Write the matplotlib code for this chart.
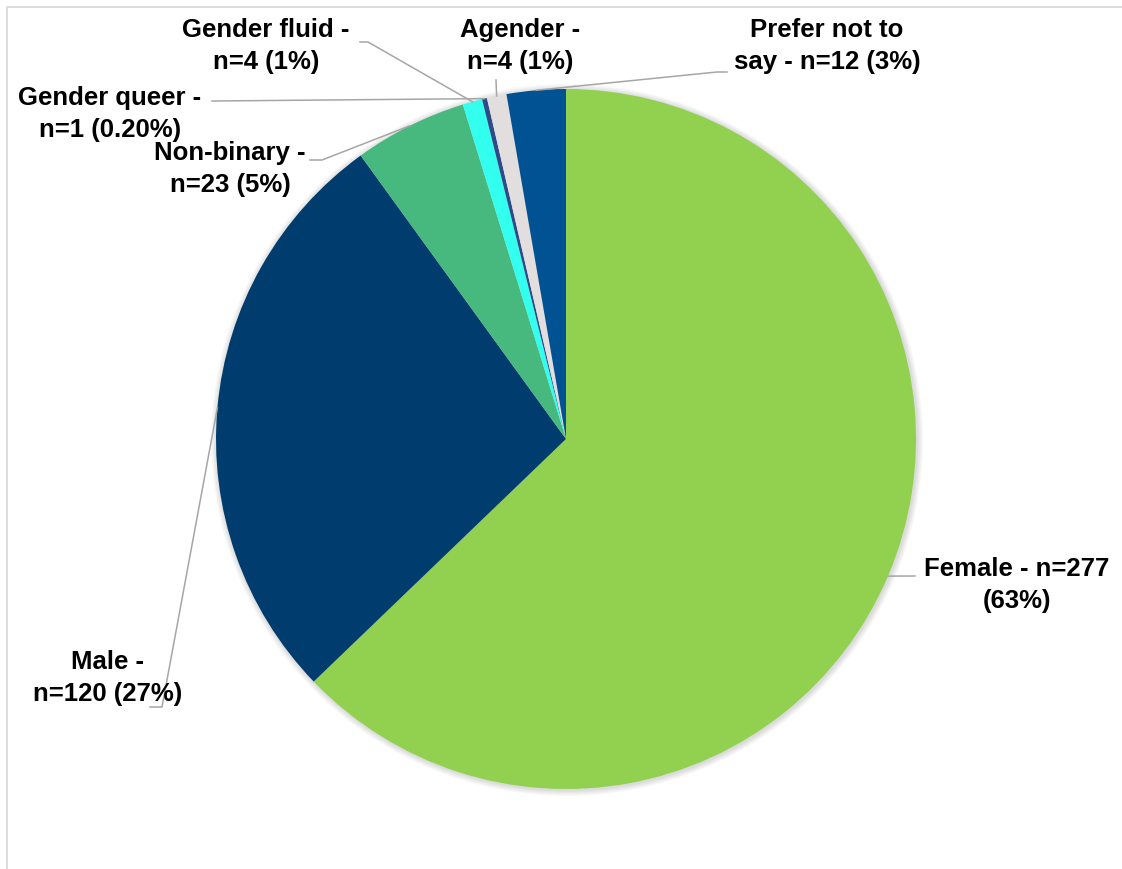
import numpy as np
import matplotlib
matplotlib.use("Agg")
import matplotlib.pyplot as plt
from matplotlib.patches import Circle

# data (clockwise from 12 o'clock)
categories = ["Female", "Male", "Non-binary", "Gender fluid", "Gender queer", "Agender", "Prefer not to say"]
counts = [277, 120, 23, 4, 1, 4, 12]
labels = ["Female - n=277\n(63%)",
          "Male -\nn=120 (27%)",
          "Non-binary -\nn=23 (5%)",
          "Gender fluid -\nn=4 (1%)",
          "Gender queer -\nn=1 (0.20%)",
          "Agender -\nn=4 (1%)",
          "Prefer not to\nsay - n=12 (3%)"]
colors = ["#92D050", "#003D6E", "#47B97E", "#33FFEE", "#2E4A87", "#E2DEDE", "#005293"]

W, H = 1122, 869
# label layout in pixel coords: text centre, point where leader meets label, optional elbow
label_pos = [(1017, 585), (108, 678), (230, 169), (266, 46), (110, 114), (520, 46), (827, 46)]
leader_start = [(915, 576), (150, 707), (310, 160), (360, 42), (212, 101), (496, 80), (727, 72)]
leader_elbow = [None, (162, 707), (322, 160), (368, 42), None, None, (717, 72)]

def py(y):
    return H - y

plt.rcParams['font.family'] = ['Liberation Sans', 'DejaVu Sans']
fig = plt.figure(figsize=(W / 100, H / 100), dpi=100)
ax = fig.add_axes([0, 0, 1, 1])

cx, cy, r = 566, py(439), 350

# soft shadow behind the pie
for i in range(6):
    ax.add_patch(Circle((cx + 1, cy - 1), r + 1 + i, color='black', alpha=0.025, lw=0, zorder=0))

wedges, _ = ax.pie(counts, colors=colors, startangle=90, counterclock=False,
                   center=(cx, cy), radius=r, frame=True,
                   wedgeprops=dict(linewidth=0))
ax.set_xlim(0, W)
ax.set_ylim(0, H)
ax.set_aspect('equal')
ax.axis('off')

for w, lab, pos, st, el in zip(wedges, labels, label_pos, leader_start, leader_elbow):
    ang = np.deg2rad((w.theta1 + w.theta2) / 2)
    ex, ey = cx + r * np.cos(ang), cy + r * np.sin(ang)
    xs = [st[0]]
    ys = [py(st[1])]
    if el is not None:
        xs.append(el[0])
        ys.append(py(el[1]))
    xs.append(ex)
    ys.append(ey)
    ax.plot(xs, ys, color='#A6A6A6', lw=1.1, zorder=3)
    ax.text(pos[0], py(pos[1]), lab, ha='center', va='center', fontsize=18.5,
            fontweight='bold', linespacing=1.4, color='black', zorder=4)

# chart frame
ax.plot([7, 7, W + 5], [-5, py(7), py(7)], color='#D9D9D9', lw=1.3, clip_on=False)

fig.savefig("out.png", dpi=100)
